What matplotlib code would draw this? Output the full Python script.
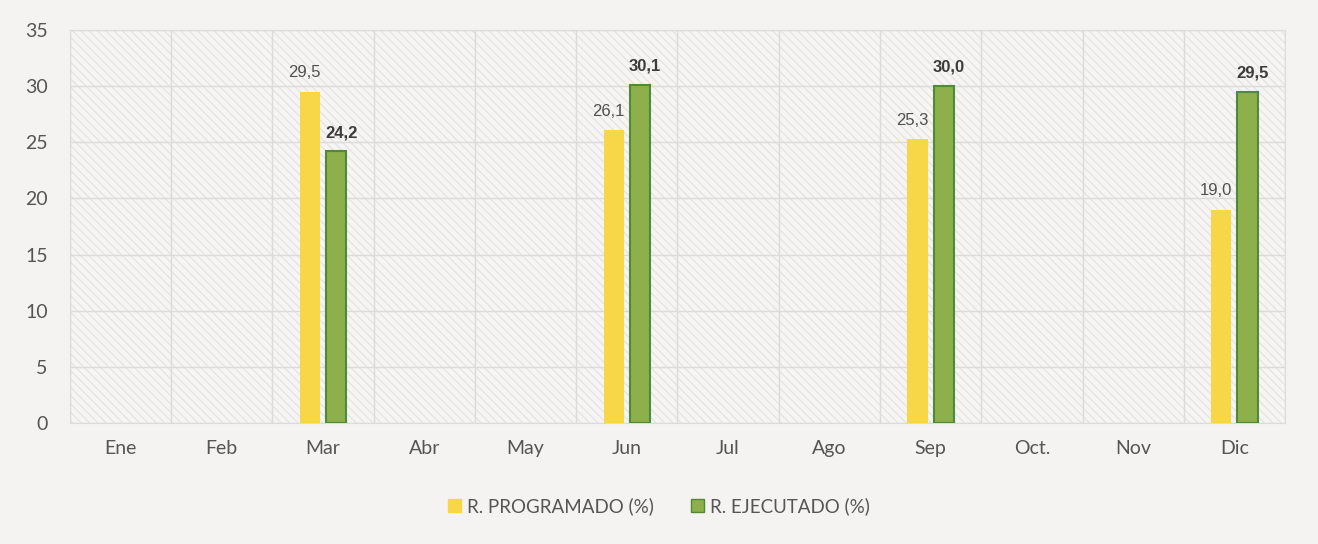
import numpy as np
import matplotlib.pyplot as plt

# data
meses = ["Ene", "Feb", "Mar", "Abr", "May", "Jun", "Jul", "Ago", "Sep", "Oct.", "Nov", "Dic"]
programado = [None, None, 29.5, None, None, 26.1, None, None, 25.3, None, None, 19.0]
ejecutado = [None, None, 24.2, None, None, 30.1, None, None, 30.0, None, None, 29.5]

amarillo = "#f7d648"
verde = "#8daf4c"
verde_borde = "#4f8a34"

plt.rcParams['font.family'] = ['Lato', 'DejaVu Sans']

fig = plt.figure(figsize=(13.18, 5.44), dpi=100)
fig.patch.set_facecolor("#f4f3f2")
ax = fig.add_axes([0.053, 0.222, 0.922, 0.723])
ax.set_facecolor("#f6f5f4")
ax.patch.set_hatch("\\\\\\\\")
ax.patch.set_edgecolor("#e6e4e4")

x = np.arange(len(meses))
w = 0.2
off = 0.13
for i in range(len(meses)):
    if programado[i] is not None:
        ax.bar(x[i] - off, programado[i], w, color=amarillo, zorder=3)
        ax.text(x[i] - off - 0.05, programado[i] + 1.0, f"{programado[i]:.1f}".replace(".", ","),
                ha="center", va="bottom", fontsize=12, color="#505050", zorder=4,
                family="Liberation Sans")
    if ejecutado[i] is not None:
        ax.bar(x[i] + off, ejecutado[i], w, color=verde, edgecolor=verde_borde, linewidth=1.5, zorder=3)
        ax.text(x[i] + off + 0.05, ejecutado[i] + 1.0, f"{ejecutado[i]:.1f}".replace(".", ","),
                ha="center", va="bottom", fontsize=12, fontweight="bold", color="#3c3c3c", zorder=4,
                family="Liberation Sans")

ax.set_xlim(-0.5, len(meses) - 0.5)
ax.set_ylim(0, 35)
ax.set_yticks(range(0, 36, 5))
ax.set_xticks(x)
ax.set_xticklabels(meses)
ax.set_xticks(np.arange(-0.5, len(meses), 1), minor=True)
ax.grid(True, which="minor", axis="x", color="#dcdada", linewidth=1, zorder=1)
ax.grid(True, which="major", axis="y", color="#dcdada", linewidth=1, zorder=1)
ax.tick_params(axis="both", which="both", length=0, labelsize=14, labelcolor="#555555")
ax.tick_params(axis="x", pad=12)
ax.tick_params(axis="y", pad=16)
for s in ax.spines.values():
    s.set_color("#dcdada")

h1 = plt.Rectangle((0, 0), 1, 1, color=amarillo)
h2 = plt.Rectangle((0, 0), 1, 1, facecolor=verde, edgecolor=verde_borde)
fig.legend([h1, h2], ["R. PROGRAMADO (%)", "R. EJECUTADO (%)"], loc="center",
           bbox_to_anchor=(0.5, 0.07), ncol=2, frameon=False,
           prop={"family": "Lato", "size": 13.5},
           labelcolor="#555555", handlelength=0.7, handleheight=0.7, columnspacing=2.0,
           handletextpad=0.3)

fig.savefig("out.png", dpi=100, facecolor=fig.get_facecolor())
